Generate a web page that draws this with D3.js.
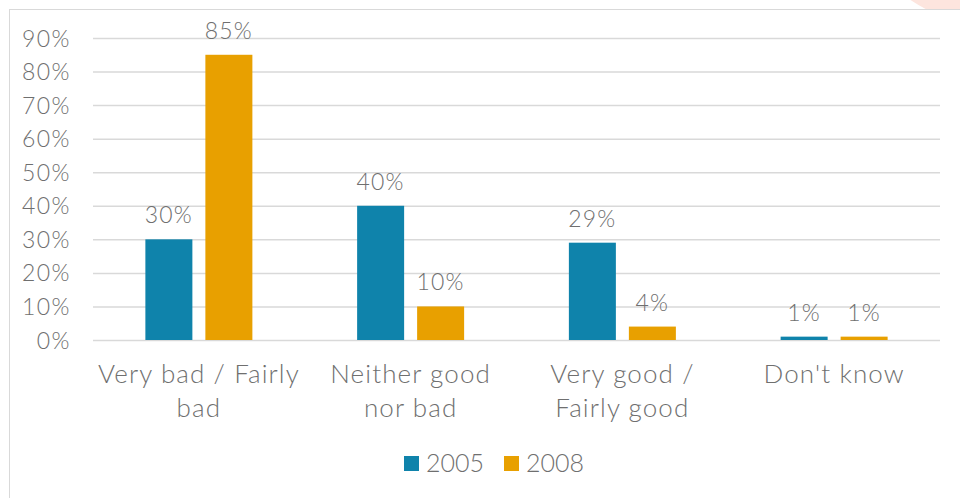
<!DOCTYPE html>
<html>
<head>
<meta charset="utf-8">
<script src="https://cdn.jsdelivr.net/npm/d3@7"></script>
<style>
  html, body { margin: 0; padding: 0; background: #fff; }
  svg { display: block; }
  text { font-family: Lato, "Open Sans", sans-serif; font-weight: 300; fill: #6f6f6f; }
</style>
</head>
<body>
<svg id="chart" width="960" height="498"></svg>
<script>
// Opinion categories (line breaks as displayed under the axis)
const categories = [
  ["Very bad / Fairly", "bad"],
  ["Neither good", "nor bad"],
  ["Very good /", "Fairly good"],
  ["Don't know"]
];
const seriesNames = ["2005", "2008"];
const values2005 = [30, 40, 29, 1];
const values2008 = [85, 10, 4, 1];
const yTicks = [0, 10, 20, 30, 40, 50, 60, 70, 80, 90];
const colors = ["#0F83AB", "#E8A000"];

const svg = d3.select("#chart");
const W = 960, H = 498;

// decorative corner shape behind the frame
svg.append("circle").attr("cx", 1010).attr("cy", -150).attr("r", 180).attr("fill", "#FDE5DE");
// chart frame
svg.append("rect").attr("x", 9.5).attr("y", 9.5).attr("width", W).attr("height", H)
  .attr("fill", "#fff").attr("stroke", "#D9D9D9").attr("stroke-width", 1);

const plot = { left: 93, right: 940, top: 38, bottom: 340 };
const groupWidth = 107;

const x0 = d3.scaleBand().domain(d3.range(categories.length))
  .range([plot.left, plot.right]).paddingInner(0).paddingOuter(0);
const x1 = d3.scaleBand().domain(seriesNames).range([0, groupWidth]).paddingInner(13 / 60);
const y = d3.scaleLinear().domain([0, 90]).range([plot.bottom, plot.top]);

// gridlines + y labels
const yAxis = d3.axisLeft(y).tickValues(yTicks).tickSize(-(plot.right - plot.left))
  .tickPadding(22).tickFormat(d => d + "%");
const gy = svg.append("g").attr("transform", `translate(${plot.left},0)`).call(yAxis);
gy.select(".domain").remove();
gy.selectAll(".tick line").attr("stroke", "#D9D9D9").attr("stroke-width", 1.5);
gy.selectAll(".tick text").attr("font-size", 23).attr("fill", "#6f6f6f")
  .attr("font-family", "Lato, sans-serif").attr("font-weight", 300)
  .attr("letter-spacing", 1.5).attr("dy", "0.35em");

const series = [values2005, values2008];
const groups = svg.append("g").selectAll("g").data(categories).join("g")
  .attr("transform", (d, i) => `translate(${x0(i) + (x0.bandwidth() - groupWidth) / 2},0)`);

seriesNames.forEach((name, s) => {
  groups.append("rect")
    .attr("x", x1(name))
    .attr("width", x1.bandwidth())
    .attr("y", (d, i) => y(series[s][i]))
    .attr("height", (d, i) => y(0) - y(series[s][i]))
    .attr("fill", colors[s]);
  groups.append("text")
    .attr("x", x1(name) + x1.bandwidth() / 2)
    .attr("y", (d, i) => y(series[s][i]) - 16)
    .attr("text-anchor", "middle")
    .attr("font-size", 23)
    .attr("letter-spacing", 1.2)
    .text((d, i) => series[s][i] + "%");
});

// category labels
const xl = svg.append("g").selectAll("text").data(categories).join("text")
  .attr("x", (d, i) => x0(i) + x0.bandwidth() / 2)
  .attr("y", 383)
  .attr("text-anchor", "middle")
  .attr("font-size", 26)
  .attr("letter-spacing", 1.1);
xl.selectAll("tspan").data(d => d).join("tspan")
  .attr("x", function () { return d3.select(this.parentNode).attr("x"); })
  .attr("dy", (d, i) => i === 0 ? 0 : 34)
  .text(d => d);

// legend
const legendX = [404, 504];
const lg = svg.append("g").selectAll("g").data(seriesNames).join("g")
  .attr("transform", (d, i) => `translate(${legendX[i]},456)`);
lg.append("rect").attr("width", 15).attr("height", 15).attr("fill", (d, i) => colors[i]);
lg.append("text").attr("x", 22).attr("y", 16).attr("font-size", 25).text(d => d);
</script>
</body>
</html>
